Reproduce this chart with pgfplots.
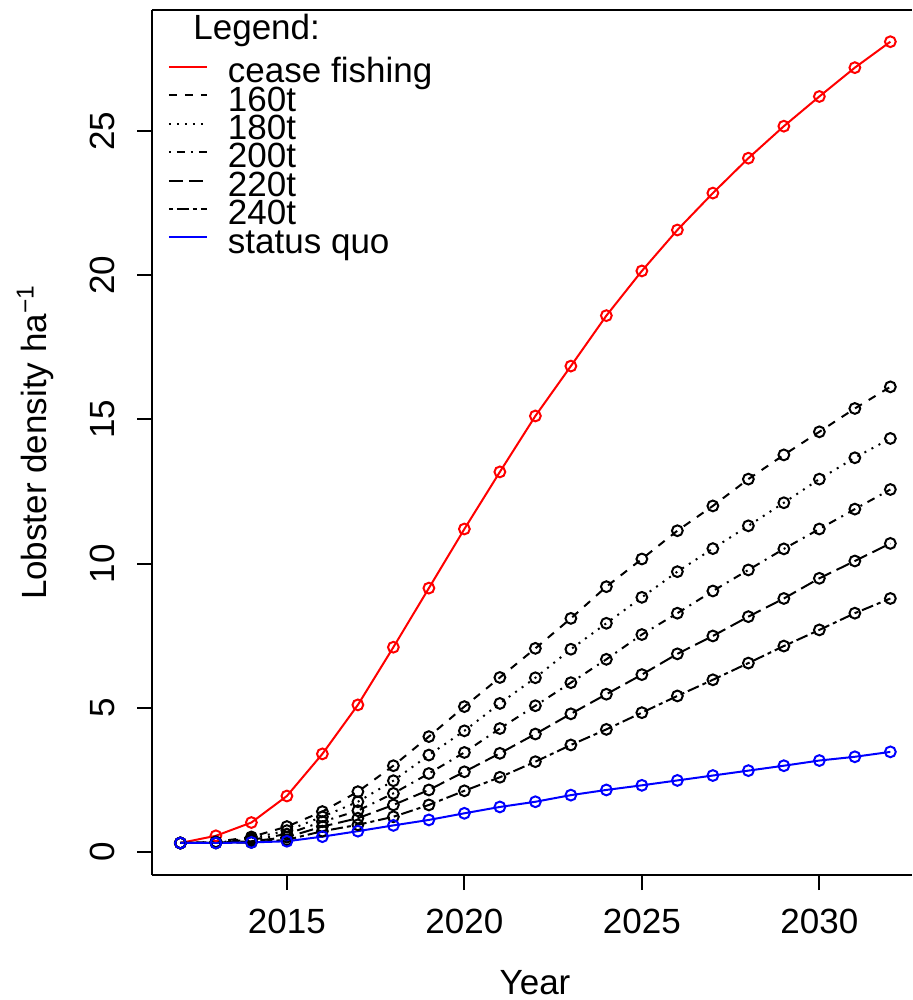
\documentclass[border=0pt]{standalone}
\usepackage{fontspec}
\setmainfont{Liberation Sans}
\usepackage{pgfplots}
\usepackage{pgfplotstable}
\pgfplotsset{compat=1.18}

\pgfplotstableread{
year cease t160 t180 t200 t220 t240 sq
2012 0.31 0.31 0.31 0.31 0.31 0.31 0.31
2013 0.56 0.35 0.34 0.33 0.32 0.31 0.31
2014 1.02 0.52 0.47 0.42 0.37 0.33 0.33
2015 1.94 0.88 0.74 0.62 0.51 0.42 0.37
2016 3.40 1.40 1.22 1.05 0.88 0.72 0.53
2017 5.10 2.09 1.74 1.43 1.17 0.94 0.72
2018 7.10 2.99 2.47 2.03 1.63 1.22 0.92
2019 9.15 4.00 3.36 2.72 2.15 1.63 1.11
2020 11.20 5.04 4.20 3.45 2.78 2.12 1.34
2021 13.18 6.05 5.15 4.28 3.42 2.59 1.56
2022 15.12 7.06 6.04 5.07 4.09 3.13 1.74
2023 16.85 8.10 7.03 5.87 4.79 3.71 1.97
2024 18.60 9.20 7.93 6.68 5.47 4.25 2.15
2025 20.15 10.16 8.83 7.54 6.15 4.83 2.31
2026 21.57 11.14 9.72 8.28 6.87 5.41 2.48
2027 22.85 12.00 10.52 9.05 7.49 5.97 2.65
2028 24.06 12.93 11.31 9.78 8.16 6.55 2.82
2029 25.17 13.77 12.11 10.51 8.79 7.14 2.99
2030 26.20 14.57 12.93 11.20 9.49 7.70 3.17
2031 27.20 15.38 13.67 11.89 10.09 8.28 3.30
2032 28.10 16.13 14.34 12.57 10.70 8.79 3.47
}\datatable

\begin{document}
\begin{tikzpicture}
\useasboundingbox (-76pt,-62.5pt) rectangle (380pt,437.5pt);
\begin{axis}[
  at={(0,0)}, anchor=south west,
  scale only axis, width=380pt, height=432.5pt,
  xmin=2011.2, xmax=2032.61, ymin=-0.8, ymax=29.2,
  axis lines*=left,
  axis line style={line width=1pt},
  tick style={line width=1pt, black},
  tick align=outside, major tick length=7.5pt,
  xtick={2015,2020,2025,2030}, ytick={0,5,10,15,20,25},
  minor tick num=0,
  /pgf/number format/1000 sep={},
  /pgf/number format/assume math mode=true,
  tick label style={font=\fontsize{17.5}{19}\selectfont},
  xticklabel style={anchor=north, inner sep=0pt, yshift=-9.5pt},
  yticklabel style={rotate=90, anchor=south, inner sep=0pt, yshift=11pt},
  xlabel={Year},
  xlabel style={at={(rel axis cs:0,0)}, anchor=base, xshift=191.5pt, yshift=-59.5pt, inner sep=0pt, font=\fontsize{17.5}{19}\selectfont},
  ylabel={Lobster density ha\textsuperscript{−1}},
  ylabel style={at={(rel axis cs:0,0.5)}, anchor=center, yshift=58.5pt, font=\fontsize{17.5}{19}\selectfont},
  legend style={draw=none, fill=none, at={(rel axis cs:0,1)}, anchor=north west, xshift=8pt, yshift=-24.35pt, inner sep=0pt, outer sep=0pt, row sep=0pt, font=\fontsize{17.5}{19}\selectfont, nodes={inner sep=0pt, text height=12pt, text depth=2.2pt, anchor=base west}},
  legend image code/.code={\draw[#1] (0pt,7.8pt) -- (19pt,7.8pt); \path (29pt,0pt);},
  every axis plot/.append style={line width=1pt, mark=o, mark size=2.7pt, mark options={solid}},
  extra description/.code={\draw[line width=1pt] (rel axis cs:0,1) -- (rel axis cs:1,1);},
]
\addplot[red] table[x=year, y=cease] {\datatable};
\addlegendentry{cease fishing}
\addplot[black, dash pattern=on 4pt off 4pt] table[x=year, y=t160] {\datatable};
\addlegendentry{160t}
\addplot[black, dash pattern=on 1pt off 3pt] table[x=year, y=t180] {\datatable};
\addlegendentry{180t}
\addplot[black, dash pattern=on 1pt off 3pt on 4pt off 3pt] table[x=year, y=t200] {\datatable};
\addlegendentry{200t}
\addplot[black, dash pattern=on 7pt off 3pt] table[x=year, y=t220] {\datatable};
\addlegendentry{220t}
\addplot[black, dash pattern=on 2pt off 2pt on 6pt off 2pt] table[x=year, y=t240] {\datatable};
\addlegendentry{240t}
\addplot[blue] table[x=year, y=sq] {\datatable};
\addlegendentry{status quo}
\node[anchor=base west, inner sep=0pt, font=\fontsize{17.5}{19}\selectfont] at (rel axis cs:0,1) [xshift=20.5pt, yshift=-15pt] {Legend:};
\end{axis}
\end{tikzpicture}
\end{document}
